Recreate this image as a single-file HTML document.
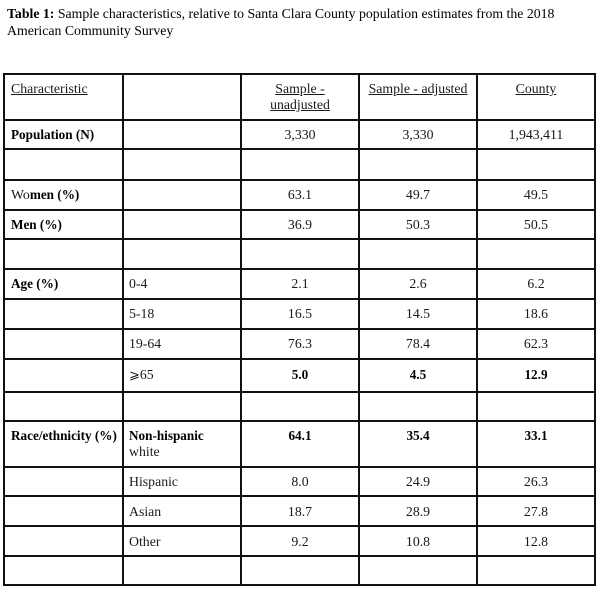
<!DOCTYPE html>
<html>
<head>
<meta charset="utf-8">
<style>
html,body{margin:0;padding:0;background:#fff;}
body{width:600px;height:591px;position:relative;overflow:hidden;font-family:"Liberation Serif","DejaVu Serif",serif;color:#1a1a1a;}
.t{position:absolute;font-size:13.8px;line-height:16px;white-space:nowrap;}
.c{text-align:center;}
.b{font-weight:bold;color:#000;font-size:13.2px;}
.t b{font-size:13.2px;}
.u{text-decoration:underline;}
.h{position:absolute;left:3px;width:593px;height:2px;background:#111;}
.v{position:absolute;top:73px;width:2px;height:513px;background:#111;}
</style>
</head>
<body>
<div class="t" style="left:7px;top:5px;line-height:17px;font-size:13.8px;color:#000;"><b style="font-size:13.8px">Table 1:</b> Sample characteristics, relative to Santa Clara County population estimates from the 2018<br>American Community Survey</div>

<!-- horizontal lines -->
<div class="h" style="top:73px"></div>
<div class="h" style="top:119px"></div>
<div class="h" style="top:148px"></div>
<div class="h" style="top:179px"></div>
<div class="h" style="top:209px"></div>
<div class="h" style="top:238px"></div>
<div class="h" style="top:268px"></div>
<div class="h" style="top:298px"></div>
<div class="h" style="top:328px"></div>
<div class="h" style="top:358px"></div>
<div class="h" style="top:391px"></div>
<div class="h" style="top:420px"></div>
<div class="h" style="top:466px"></div>
<div class="h" style="top:495px"></div>
<div class="h" style="top:525px"></div>
<div class="h" style="top:555px"></div>
<div class="h" style="top:584px"></div>

<!-- vertical lines -->
<div class="v" style="left:3px"></div>
<div class="v" style="left:122px"></div>
<div class="v" style="left:240px"></div>
<div class="v" style="left:358px"></div>
<div class="v" style="left:476px"></div>
<div class="v" style="left:594px"></div>

<!-- header -->
<div class="t u" style="left:11px;top:81px;">Characteristic</div>
<div class="t c u" style="left:242px;width:116px;top:81px;">Sample -<br>unadjusted</div>
<div class="t c u" style="left:360px;width:116px;top:81px;">Sample - adjusted</div>
<div class="t c u" style="left:478px;width:116px;top:81px;">County</div>

<!-- Population -->
<div class="t b" style="left:11px;top:127px;">Population (N)</div>
<div class="t c" style="left:242px;width:116px;top:127px;">3,330</div>
<div class="t c" style="left:360px;width:116px;top:127px;">3,330</div>
<div class="t c" style="left:478px;width:116px;top:127px;">1,943,411</div>

<!-- Women -->
<div class="t" style="left:11px;top:187px;">Wo<b style="color:#000">men (%)</b></div>
<div class="t c" style="left:242px;width:116px;top:187px;">63.1</div>
<div class="t c" style="left:360px;width:116px;top:187px;">49.7</div>
<div class="t c" style="left:478px;width:116px;top:187px;">49.5</div>

<!-- Men -->
<div class="t b" style="left:11px;top:217px;">Men (%)</div>
<div class="t c" style="left:242px;width:116px;top:217px;">36.9</div>
<div class="t c" style="left:360px;width:116px;top:217px;">50.3</div>
<div class="t c" style="left:478px;width:116px;top:217px;">50.5</div>

<!-- Age -->
<div class="t b" style="left:11px;top:276px;">Age (%)</div>
<div class="t" style="left:129px;top:276px;">0-4</div>
<div class="t c" style="left:242px;width:116px;top:276px;">2.1</div>
<div class="t c" style="left:360px;width:116px;top:276px;">2.6</div>
<div class="t c" style="left:478px;width:116px;top:276px;">6.2</div>

<div class="t" style="left:129px;top:306px;">5-18</div>
<div class="t c" style="left:242px;width:116px;top:306px;">16.5</div>
<div class="t c" style="left:360px;width:116px;top:306px;">14.5</div>
<div class="t c" style="left:478px;width:116px;top:306px;">18.6</div>

<div class="t" style="left:129px;top:336px;">19-64</div>
<div class="t c" style="left:242px;width:116px;top:336px;">76.3</div>
<div class="t c" style="left:360px;width:116px;top:336px;">78.4</div>
<div class="t c" style="left:478px;width:116px;top:336px;">62.3</div>

<div class="t" style="left:129px;top:367px;"><span style="font-family:'DejaVu Sans',sans-serif;font-size:13px;">⩾</span>65</div>
<div class="t c b" style="left:242px;width:116px;top:367px;">5.0</div>
<div class="t c b" style="left:360px;width:116px;top:367px;">4.5</div>
<div class="t c b" style="left:478px;width:116px;top:367px;">12.9</div>

<!-- Race -->
<div class="t b" style="left:11px;top:428px;">Race/ethnicity (%)</div>
<div class="t" style="left:129px;top:428px;"><b style="color:#000">Non-hispanic</b><br>white</div>
<div class="t c b" style="left:242px;width:116px;top:428px;">64.1</div>
<div class="t c b" style="left:360px;width:116px;top:428px;">35.4</div>
<div class="t c b" style="left:478px;width:116px;top:428px;">33.1</div>

<div class="t" style="left:129px;top:474px;">Hispanic</div>
<div class="t c" style="left:242px;width:116px;top:474px;">8.0</div>
<div class="t c" style="left:360px;width:116px;top:474px;">24.9</div>
<div class="t c" style="left:478px;width:116px;top:474px;">26.3</div>

<div class="t" style="left:129px;top:504px;">Asian</div>
<div class="t c" style="left:242px;width:116px;top:504px;">18.7</div>
<div class="t c" style="left:360px;width:116px;top:504px;">28.9</div>
<div class="t c" style="left:478px;width:116px;top:504px;">27.8</div>

<div class="t" style="left:129px;top:534px;">Other</div>
<div class="t c" style="left:242px;width:116px;top:534px;">9.2</div>
<div class="t c" style="left:360px;width:116px;top:534px;">10.8</div>
<div class="t c" style="left:478px;width:116px;top:534px;">12.8</div>
</body>
</html>
